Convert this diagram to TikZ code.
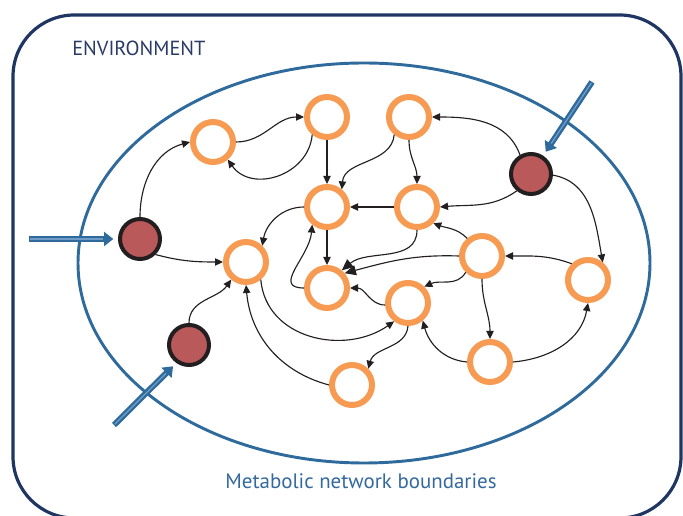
\documentclass[tikz,border=0pt]{standalone}
\usepackage{fontspec}
\setmainfont{PT Sans}
\usetikzlibrary{arrows.meta}
\definecolor{navy}{HTML}{1F3562}
\definecolor{ellblue}{HTML}{2F6A9C}
\definecolor{lightarr}{HTML}{6E9CC6}
\definecolor{orng}{HTML}{F79A52}
\definecolor{redfill}{HTML}{B95959}
\definecolor{dk}{HTML}{231F20}
\definecolor{txtblue}{HTML}{35699E}
\definecolor{envtxt}{HTML}{2A3A66}
\tikzset{
  onode/.style={circle, draw=orng, fill=white, line width=4.5pt, minimum size=30pt, inner sep=0pt},
  rnode/.style={circle, draw=dk, fill=redfill, line width=3pt, minimum size=30pt, inner sep=0pt},
  edge/.style={draw=dk, line width=0.85pt, -{Triangle[length=6pt,width=5.5pt]}},
  bigedge/.style={draw=dk, line width=0.85pt, -{Triangle[length=8.5pt,width=7.5pt]}},
  fatarrow/.style={draw=ellblue, line width=4.5pt, -{Triangle[length=7pt,width=10.5pt]}, shorten >=3.5pt},
  fatinner/.style={draw=lightarr, line width=1pt, shorten >=11pt, shorten <=1pt},
}
\begin{document}
\begin{tikzpicture}[x=0.75pt,y=-0.75pt]
\useasboundingbox (0,0) rectangle (683,516);
% environment box
\draw[navy, line width=2.4pt, rounded corners=46pt] (13,15) rectangle (681,518);
\node[anchor=base west, font=\fontsize{15.3}{17}\selectfont, text=envtxt, inner sep=0pt] (env) at (72,56) {ENVIRONMENT};
% metabolic boundary
\draw[ellblue, line width=2.2pt] (364,263) ellipse [x radius=286, y radius=200];
\node[font=\fontsize{15.7}{18}\selectfont, text=txtblue, inner sep=0pt] (mnb) at (361,481) {Metabolic network boundaries};

% nodes
\node[onode] (A) at (213,142) {};
\node[onode] (B) at (327,117) {};
\node[onode] (C) at (409,117) {};
\node[onode] (D) at (327,207) {};
\node[onode] (E) at (417,207) {};
\node[rnode] (F) at (531,174) {};
\node[rnode] (G) at (140,239) {};
\node[onode] (H) at (246,262) {};
\node[onode] (I) at (327,288) {};
\node[onode] (J) at (482,256) {};
\node[onode] (K) at (408,303) {};
\node[onode] (L) at (588,280) {};
\node[onode] (M) at (490,362) {};
\node[onode] (N) at (352,385) {};
\node[rnode] (O) at (189,345) {};

% input arrows
\coordinate (s1) at (29,239);
\coordinate (s2) at (592,82);
\coordinate (s3) at (114,425);
\draw[fatarrow] (s1) -- (G);
\draw[fatinner] (s1) -- (G);
\draw[fatarrow] (s2) -- (F);
\draw[fatinner] (s2) -- (F);
\draw[fatarrow] (s3) -- (O.235);
\draw[fatinner] (s3) -- (O.235);

% edges
\draw[edge] (G.90) to[out=90,in=195] (A.180);
\draw[edge] (A.0) to[out=0,in=180] (B.180);
\draw[edge] (B.-130) to[out=-95,in=-55,looseness=1.2] (A.-50);
\draw[edge] (B.-90) -- (D.90);
\draw[edge] (C.-130) to[out=-95,in=85] (D.50);
\draw[edge] (C.-90) to[out=-90,in=90] (E.90);
\draw[edge] (F.120) to[out=110,in=0] (C.0);
\draw[edge] (F.-130) to[out=-145,in=5] (E.0);
\draw[edge] (E.180) -- (D.0);
\draw[edge] (F.-3) to[out=-10,in=100] (L.50);
\draw[edge] (D.180) to[out=180,in=80] (H.45);
\draw[edge] (D.-90) -- (I.90);
\draw[edge] (I.180) to[out=180,in=-95,looseness=1.3] (D.-130);
\draw[bigedge] (E.-90) to[out=-90,in=40] (I.50);
\draw[bigedge] (J.180) to[out=178,in=15] (I.40);
\draw[edge] (J.130) to[out=135,in=-20] (E.-45);
\draw[edge] (J.-135) to[out=-120,in=25] (K.45);
\draw[edge] (J.-90) to[out=-90,in=90] (M.90);
\draw[edge] (L.135) to[out=160,in=0] (J.0);
\draw[edge] (M.0) to[out=5,in=-100] (L.-90);
\draw[edge] (M.180) to[out=175,in=-75] (K.-50);
\draw[edge] (K.185) to[out=180,in=0] (I.0);
\draw[edge] (K.-90) to[out=-95,in=75] (N.45);
\draw[edge] (H.-50) to[out=-85,in=215,looseness=1.1] (K.-127);
\draw[edge] (N.180) to[out=165,in=-85] (H.-90);
\draw[edge] (G.-45) to[out=-15,in=180] (H.180);
\draw[edge] (O.90) to[out=90,in=235] (H.-130);
\end{tikzpicture}
\end{document}
